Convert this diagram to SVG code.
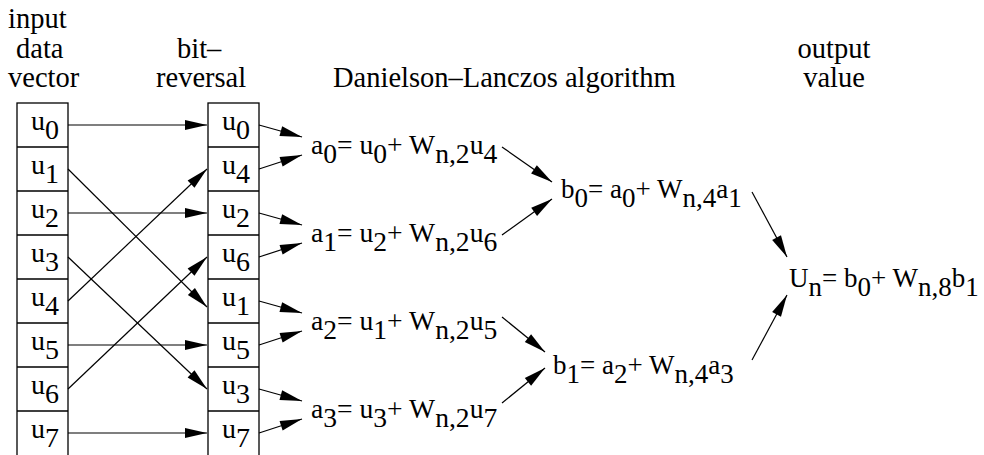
<svg xmlns="http://www.w3.org/2000/svg" width="984" height="455" viewBox="0 0 984 455" font-family="Liberation Serif, serif">
<style>
text{fill:#000}
.h{font-size:28.5px}
.l{font-size:28px}
.f{font-size:27px}
.fa{font-size:27.6px}
.box{fill:#fff;stroke:#000;stroke-width:1.3}
.sep{stroke:#000;stroke-width:1.3}
.c{fill:none;stroke:#000;stroke-width:1.2;marker-end:url(#ah)}
</style>
<defs>
<marker id="ah" markerUnits="userSpaceOnUse" markerWidth="22" markerHeight="10" refX="22" refY="5" orient="auto" overflow="visible">
<path d="M0,0 L22,5 L0,10 z" fill="#000"/>
</marker>
</defs>
<rect width="984" height="455" fill="#fff"/>
<g id="headers" font-family="Liberation Serif, serif">
<text class="h" x="8" y="28">input</text>
<text class="h" x="16" y="58">data</text>
<text class="h" x="8" y="87">vector</text>
<text class="h" x="177" y="58">bit–</text>
<text class="h" x="156" y="87">reversal</text>
<text class="h" x="333" y="87">Danielson–Lanczos algorithm</text>
<text class="h" x="834" y="58" text-anchor="middle">output</text>
<text class="h" x="834" y="87" text-anchor="middle">value</text>
</g>
<g id="input-vector" font-family="Liberation Serif, serif">
<rect class="box" x="17" y="103" width="51" height="360"/>
<path class="sep" d="M17,147H68M17,191H68M17,235H68M17,279H68M17,323H68M17,367H68M17,411H68"/>
<text class="l" x="31" y="130">u<tspan dy="9">0</tspan></text>
<text class="l" x="31" y="174">u<tspan dy="9">1</tspan></text>
<text class="l" x="31" y="218">u<tspan dy="9">2</tspan></text>
<text class="l" x="31" y="262">u<tspan dy="9">3</tspan></text>
<text class="l" x="31" y="306">u<tspan dy="9">4</tspan></text>
<text class="l" x="31" y="350">u<tspan dy="9">5</tspan></text>
<text class="l" x="31" y="394">u<tspan dy="9">6</tspan></text>
<text class="l" x="31" y="438">u<tspan dy="9">7</tspan></text>
</g>
<g id="bit-reversal" font-family="Liberation Serif, serif">
<rect class="box" x="208" y="103" width="51" height="360"/>
<path class="sep" d="M208,147H259M208,191H259M208,235H259M208,279H259M208,323H259M208,367H259M208,411H259"/>
<text class="l" x="222" y="130">u<tspan dy="9">0</tspan></text>
<text class="l" x="222" y="174">u<tspan dy="9">4</tspan></text>
<text class="l" x="222" y="218">u<tspan dy="9">2</tspan></text>
<text class="l" x="222" y="262">u<tspan dy="9">6</tspan></text>
<text class="l" x="222" y="306">u<tspan dy="9">1</tspan></text>
<text class="l" x="222" y="350">u<tspan dy="9">5</tspan></text>
<text class="l" x="222" y="394">u<tspan dy="9">3</tspan></text>
<text class="l" x="222" y="438">u<tspan dy="9">7</tspan></text>
</g>
<g id="a0" font-family="Liberation Serif, serif"><text class="fa" x="311" y="154">a<tspan dy="9">0</tspan><tspan dy="-9">= u</tspan><tspan dy="9">0</tspan><tspan dy="-9">+ W</tspan><tspan dy="9">n,2</tspan><tspan dy="-9">u</tspan><tspan dy="9">4</tspan></text></g>
<g id="a1" font-family="Liberation Serif, serif"><text class="fa" x="311" y="242">a<tspan dy="9">1</tspan><tspan dy="-9">= u</tspan><tspan dy="9">2</tspan><tspan dy="-9">+ W</tspan><tspan dy="9">n,2</tspan><tspan dy="-9">u</tspan><tspan dy="9">6</tspan></text></g>
<g id="a2" font-family="Liberation Serif, serif"><text class="fa" x="311" y="330">a<tspan dy="9">2</tspan><tspan dy="-9">= u</tspan><tspan dy="9">1</tspan><tspan dy="-9">+ W</tspan><tspan dy="9">n,2</tspan><tspan dy="-9">u</tspan><tspan dy="9">5</tspan></text></g>
<g id="a3" font-family="Liberation Serif, serif"><text class="fa" x="311" y="418">a<tspan dy="9">3</tspan><tspan dy="-9">= u</tspan><tspan dy="9">3</tspan><tspan dy="-9">+ W</tspan><tspan dy="9">n,2</tspan><tspan dy="-9">u</tspan><tspan dy="9">7</tspan></text></g>
<g id="b0" font-family="Liberation Serif, serif"><text class="f" x="561" y="198">b<tspan dy="9">0</tspan><tspan dy="-9">= a</tspan><tspan dy="9">0</tspan><tspan dy="-9">+ W</tspan><tspan dy="9">n,4</tspan><tspan dy="-9">a</tspan><tspan dy="9">1</tspan></text></g>
<g id="b1" font-family="Liberation Serif, serif"><text class="f" x="553" y="374">b<tspan dy="9">1</tspan><tspan dy="-9">= a</tspan><tspan dy="9">2</tspan><tspan dy="-9">+ W</tspan><tspan dy="9">n,4</tspan><tspan dy="-9">a</tspan><tspan dy="9">3</tspan></text></g>
<g id="Un" font-family="Liberation Serif, serif"><text class="f" x="789" y="287">U<tspan dy="9">n</tspan><tspan dy="-9">= b</tspan><tspan dy="9">0</tspan><tspan dy="-9">+ W</tspan><tspan dy="9">n,8</tspan><tspan dy="-9">b</tspan><tspan dy="9">1</tspan></text></g>
<g id="connectors">
<path class="c" d="M68,125L207,125"/>
<path class="c" d="M68,213L207,213"/>
<path class="c" d="M68,345L207,345"/>
<path class="c" d="M68,433L207,433"/>
<path class="c" d="M68,169L207,307"/>
<path class="c" d="M68,257L207,389"/>
<path class="c" d="M68,301L207,169"/>
<path class="c" d="M68,389L207,257"/>
<path class="c" d="M259,125L302,137"/>
<path class="c" d="M259,169L302,155"/>
<path class="c" d="M259,213L302,225"/>
<path class="c" d="M259,257L302,243"/>
<path class="c" d="M259,301L302,313"/>
<path class="c" d="M259,345L302,331"/>
<path class="c" d="M259,389L302,401"/>
<path class="c" d="M259,433L302,419"/>
<path class="c" d="M502,147L552,182"/>
<path class="c" d="M502,235L552,199"/>
<path class="c" d="M502,317L545,352"/>
<path class="c" d="M502,403L545,368"/>
<path class="c" d="M752,192L787,257"/>
<path class="c" d="M752,360L787,295"/>
</g>
</svg>
